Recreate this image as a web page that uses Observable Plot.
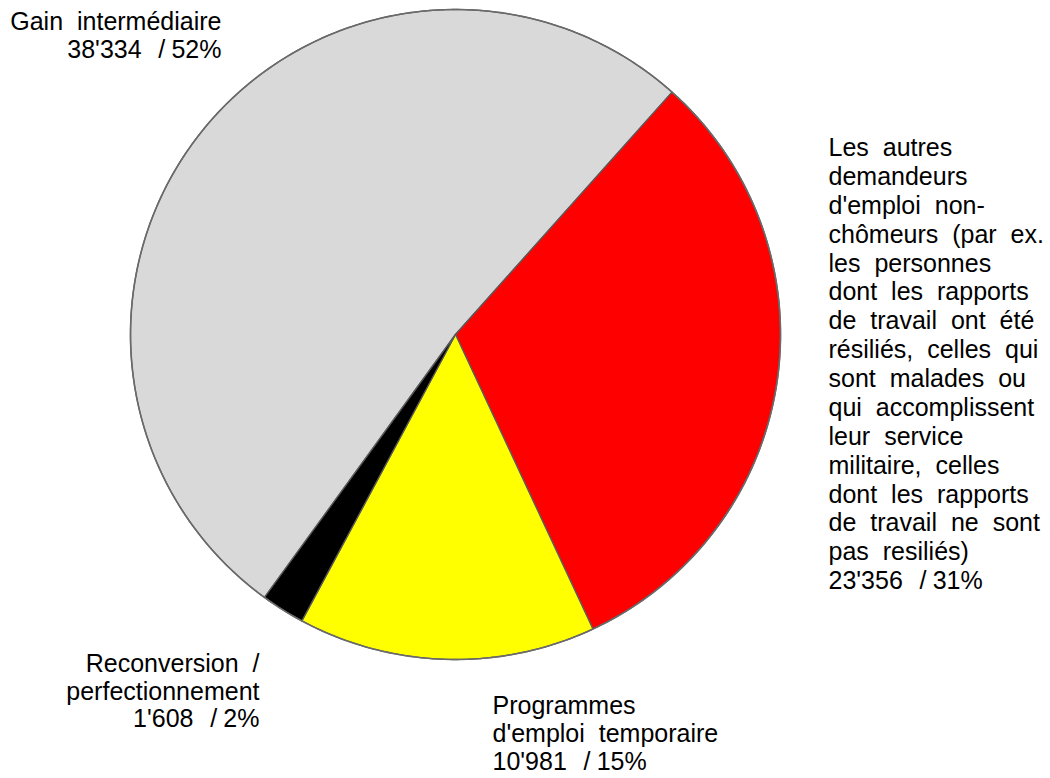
<!DOCTYPE html>
<html>
<head>
<meta charset="utf-8">
<script src="https://cdn.jsdelivr.net/npm/d3@7"></script>
<script src="https://cdn.jsdelivr.net/npm/@observablehq/plot@0.6"></script>
<style>
  html, body { margin: 0; padding: 0; background: #ffffff; }
  #chart svg text { word-spacing: 7px; }
</style>
</head>
<body>
<div id="chart"></div>
<script>
// ---- data ----
const categories = [
  "Gain intermédiaire",
  "Les autres demandeurs d'emploi non-chômeurs (par ex. les personnes dont les rapports de travail ont été résiliés, celles qui sont malades ou qui accomplissent leur service militaire, celles dont les rapports de travail ne sont pas resiliés)",
  "Programmes d'emploi temporaire",
  "Reconversion / perfectionnement"
];
const labelLines = [
  ["Gain intermédiaire"],
  ["Les autres", "demandeurs", "d'emploi non-", "chômeurs (par ex.", "les personnes", "dont les rapports", "de travail ont été", "résiliés, celles qui", "sont malades ou", "qui accomplissent", "leur service", "militaire, celles", "dont les rapports", "de travail ne sont", "pas resiliés)"],
  ["Programmes", "d'emploi temporaire"],
  ["Reconversion /", "perfectionnement"]
];
const values = [38334, 23356, 10981, 1608];
const colors = ["#d9d9d9", "#ff0000", "#ffff00", "#000000"];

// ---- layout ----
const W = 1050, H = 778;
const cx = 455, cy = 334, R = 325;
const startAngle = 216; // degrees, clockwise from top
const fontSize = 25;
const labelPos = [
  {px: 221, py: 10, anchor: "end", lh: 1.12},
  {px: 828, py: 135, anchor: "start", lh: 1.155},
  {px: 492, py: 694, anchor: "start", lh: 1.115},
  {px: 259, py: 652, anchor: "end", lh: 1.1}
];

const locale = d3.formatLocale({decimal: ".", thousands: "'", grouping: [3], currency: ["", ""]});
const fmt = locale.format(",d");
const total = d3.sum(values);

// build slices
let acc = startAngle;
const slices = values.map((v, i) => {
  const a0 = acc, a1 = acc + v / total * 360;
  acc = a1;
  const pts = [{x: 0, y: 0}];
  const n = Math.max(4, Math.ceil((a1 - a0) * 3));
  for (let k = 0; k <= n; k++) {
    const a = (a0 + (a1 - a0) * k / n) * Math.PI / 180;
    pts.push({x: Math.sin(a), y: -Math.cos(a)});
  }
  pts.push({x: 0, y: 0});
  return {i, pts};
});

const labels = values.map((v, i) => ({
  x: (labelPos[i].px - cx) / R,
  y: (labelPos[i].py - cy) / R,
  text: [...labelLines[i], `${fmt(v)}\u2002\u2006/\u2005${Math.round(v / total * 100)}%`].join("\n")
}));

const marks = slices.map(s => Plot.line(s.pts, {
  x: "x", y: "y", fill: colors[s.i], stroke: "#5a5a5a", strokeWidth: 1.3, curve: "linear", strokeLinejoin: "round"
}));
// outer ring
marks.push(Plot.line(d3.range(0, 361, 1).map(a => ({x: Math.sin(a * Math.PI / 180), y: -Math.cos(a * Math.PI / 180)})), {
  x: "x", y: "y", stroke: "#6a6a6a", strokeWidth: 1.6
}));
labels.forEach((d, i) => {
  marks.push(Plot.text([d], {
    x: "x", y: "y", text: "text", textAnchor: labelPos[i].anchor, lineAnchor: "top",
    lineHeight: labelPos[i].lh, fontSize, fill: "#000000"
  }));
});

const chart = Plot.plot({
  width: W, height: H,
  marginTop: 0, marginRight: 0, marginBottom: 0, marginLeft: 0,
  x: {domain: [-cx / R, (W - cx) / R], range: [0, W], axis: null},
  y: {domain: [-cy / R, (H - cy) / R], range: [0, H], axis: null},
  style: {fontFamily: "'Liberation Sans', Arial, sans-serif", background: "#ffffff"},
  marks
});
document.getElementById("chart").appendChild(chart);
</script>
</body>
</html>
